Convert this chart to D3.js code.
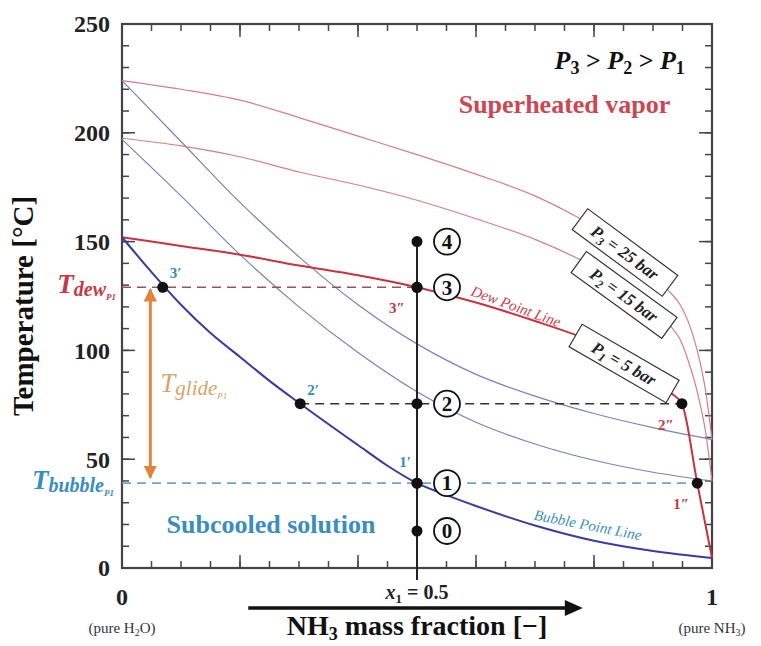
<!DOCTYPE html>
<html>
<head>
<meta charset="utf-8">
<title>NH3-H2O: T-x diagram</title>
<script src="https://d3js.org/d3.v7.min.js"></script>
<style>
  body { margin: 0; background: #fff; }
  text { font-family: "Liberation Serif", "Times New Roman", serif; }
</style>
</head>
<body>
<div id="chart"></div>
<script>
// [NH3 mass fraction, temperature °C]
const bubbleP1 = [[0,152],[0.05,136],[0.1,121],[0.15,108],[0.2,97],[0.25,86],[0.302,75.5],[0.4,56.5],[0.45,47],[0.5,39],[0.55,33.5],[0.6,28.5],[0.7,19.5],[0.8,12.5],[0.9,7.8],[1,4.6]];
const dewP1 = [[0,152],[0.1,148],[0.2,144],[0.3,139],[0.4,134.5],[0.5,129],[0.6,122],[0.7,113.5],[0.78,106],[0.85,98],[0.9,89],[0.93,80.5],[0.949,75.5],[0.975,39],[1,4.6]];
const bubbleP2 = [[0,197],[0.1,171],[0.2,144],[0.3,120],[0.4,99],[0.5,81],[0.6,67],[0.7,57],[0.8,49.5],[0.9,44],[1,40]];
const dewP2 = [[0,197.5],[0.1,194],[0.2,189],[0.3,182],[0.4,176],[0.5,169],[0.6,160.5],[0.7,151],[0.8,138.5],[0.85,131],[0.9,120],[0.93,111],[0.946,105],[0.96,95],[0.975,81],[0.99,61],[1,40]];
const bubbleP3 = [[0,224],[0.1,196],[0.2,168],[0.3,143],[0.4,121],[0.5,103],[0.6,89],[0.7,79],[0.8,71],[0.9,64.5],[1,59]];
const dewP3 = [[0,224],[0.1,220],[0.2,215],[0.3,207],[0.4,198.5],[0.5,190],[0.6,181],[0.7,171],[0.77,161.5],[0.85,148],[0.9,137],[0.923,128.5],[0.946,121],[0.96,113],[0.975,100],[0.99,80],[1,59]];

// process at x1 = 0.5
const x1 = 0.5;
const Tdew = 129, T2 = 75.5, Tbubble = 39;
const statePoints = [{label:"4", T:150}, {label:"3", T:Tdew}, {label:"2", T:T2}, {label:"1", T:Tbubble}, {label:"0", T:17}];
const primePoints = [{label:"3′", x:0.069, T:Tdew}, {label:"2′", x:0.302, T:T2}, {label:"1′", x:0.5, T:Tbubble}];
const dprimePoints = [{label:"3″", x:0.5, T:Tdew}, {label:"2″", x:0.949, T:T2}, {label:"1″", x:0.975, T:Tbubble}];

// pressure boxes: label, anchor (x, T), angle
const pressureLabels = [
  {p:"3", val:"25", x:0.8525, T:145, angle:36.5},
  {p:"2", val:"15", x:0.851, T:125.5, angle:36},
  {p:"1", val:"5", x:0.851, T:94, angle:30}
];

const yMajor = [0, 50, 100, 150, 200, 250];
const yMinor = d3.range(0, 251, 10);
const xMajor = [0, 0.2, 0.4, 0.6, 0.8, 1];
const xMinor = d3.range(0, 1.001, 0.05);

const W = 761, H = 646;
const margin = {top: 24, right: 49, bottom: 78, left: 122};
const svg = d3.select("#chart").append("svg").attr("width", W).attr("height", H);

const x = d3.scaleLinear().domain([0, 1]).range([margin.left, W - margin.right]);
const y = d3.scaleLinear().domain([0, 250]).range([H - margin.bottom, margin.top]);

const line = d3.line().x(d => x(d[0])).y(d => y(d[1])).curve(d3.curveMonotoneX);

// inward ticks on all four sides
function yTicks(vals, len) {
  [[x(0), 1], [x(1), -1]].forEach(([x0, dir]) => {
    svg.append("g").selectAll("line").data(vals).join("line")
      .attr("x1", x0).attr("x2", x0 + dir * len)
      .attr("y1", d => y(d)).attr("y2", d => y(d))
      .style("stroke", "#444").style("stroke-width", "1.5px");
  });
}
function xTicks(vals, len) {
  [[y(250), 1], [y(0), -1]].forEach(([y0, dir]) => {
    svg.append("g").selectAll("line").data(vals).join("line")
      .attr("y1", y0).attr("y2", y0 + dir * len)
      .attr("x1", d => x(d)).attr("x2", d => x(d))
      .style("stroke", "#444").style("stroke-width", "1.5px");
  });
}
yTicks(yMinor, 7); yTicks(yMajor, 13);
xTicks(xMinor, 7); xTicks(xMajor, 13);

svg.append("rect")
  .attr("x", x(0)).attr("y", y(250))
  .attr("width", x(1) - x(0)).attr("height", y(0) - y(250))
  .attr("fill", "none").attr("stroke", "#444").attr("stroke-width", 2.2);

// y tick labels
svg.append("g").selectAll("text").data(yMajor).join("text")
  .attr("x", x(0) - 12).attr("y", d => y(d)).attr("dy", "0.35em")
  .attr("text-anchor", "end").attr("font-size", 24).attr("font-weight", "bold")
  .attr("fill", "#222").text(d => d);

// y title
svg.append("text")
  .attr("transform", `translate(33,${y(125) + 10}) rotate(-90)`)
  .attr("text-anchor", "middle").attr("font-size", 29).attr("font-weight", "bold")
  .attr("fill", "#111").text("Temperature [°C]");

// bubble and dew curves
const curves = [
  {d: bubbleP3, c: "#7d80bb", w: 1.2},
  {d: bubbleP2, c: "#7d80bb", w: 1.2},
  {d: dewP3, c: "#d77e88", w: 1.2},
  {d: dewP2, c: "#d77e88", w: 1.2},
  {d: dewP1, c: "#c9323f", w: 2},
  {d: bubbleP1, c: "#3a3aa6", w: 2}
];
svg.append("g").selectAll("path").data(curves).join("path")
  .attr("d", d => line(d.d)).attr("fill", "none")
  .attr("stroke", d => d.c).attr("stroke-width", d => d.w);

// dashed isotherms
const dashes = [
  {x0: 0, x1: x1, T: Tdew, c: "#a0505c"},
  {x0: 0.302, x1: 0.949, T: T2, c: "#333"},
  {x0: 0, x1: 0.975, T: Tbubble, c: "#7f9dc0"}
];
svg.append("g").selectAll("line").data(dashes).join("line")
  .attr("x1", d => x(d.x0)).attr("x2", d => x(d.x1))
  .attr("y1", d => y(d.T)).attr("y2", d => y(d.T))
  .attr("stroke", d => d.c).attr("stroke-width", 1.6).attr("stroke-dasharray", "9,6");

// vertical process line at x1
svg.append("line")
  .attr("x1", x(x1)).attr("x2", x(x1)).attr("y1", y(150)).attr("y2", y(-5.5))
  .attr("stroke", "#222").attr("stroke-width", 2);

// glide arrow
const glideX = 0.048;
const defs = svg.append("defs");
defs.append("marker").attr("id", "oh").attr("viewBox", "0 0 10 10")
  .attr("refX", 9).attr("refY", 5).attr("markerWidth", 4.5).attr("markerHeight", 4.5)
  .attr("orient", "auto-start-reverse")
  .append("path").attr("d", "M0,0 L10,5 L0,10 Z").attr("fill", "#e0843c");
svg.append("line")
  .attr("x1", x(glideX)).attr("x2", x(glideX)).attr("y1", y(41.5)).attr("y2", y(128))
  .attr("stroke", "#e0843c").attr("stroke-width", 3)
  .attr("marker-start", "url(#oh)").attr("marker-end", "url(#oh)");

// pressure boxes
const pb = svg.append("g").selectAll("g").data(pressureLabels).join("g")
  .attr("transform", d => `translate(${x(d.x)},${y(d.T)}) rotate(${d.angle})`);
pb.append("rect").attr("x", -56).attr("y", -13).attr("width", 112).attr("height", 26)
  .attr("fill", "#fff").attr("stroke", "#333").attr("stroke-width", 1.2);
const pbt = pb.append("text").attr("text-anchor", "middle").attr("y", 6)
  .attr("font-size", 17).attr("font-weight", "bold").attr("font-style", "italic").attr("fill", "#222");
pbt.append("tspan").text("P");
pbt.append("tspan").attr("font-size", 12).attr("dy", 4).text(d => d.p);
pbt.append("tspan").attr("dy", -4).text(d => ` = ${d.val} bar`);

// curve labels
svg.append("text")
  .attr("transform", `translate(${x(0.665)},${y(118)}) rotate(20)`)
  .attr("text-anchor", "middle").attr("font-size", 15).attr("font-style", "italic")
  .attr("fill", "#d0404e").text("Dew Point Line");
svg.append("text")
  .attr("transform", `translate(${x(0.788)},${y(17.5)}) rotate(11)`)
  .attr("text-anchor", "middle").attr("font-size", 15).attr("font-style", "italic")
  .attr("fill", "#3a8fc0").text("Bubble Point Line");

// region labels
svg.append("text").attr("x", x(0.75)).attr("y", y(209))
  .attr("text-anchor", "middle").attr("font-size", 26).attr("font-weight", "bold")
  .attr("fill", "#cf4650").text("Superheated vapor");
svg.append("text").attr("x", x(0.2525)).attr("y", y(16))
  .attr("text-anchor", "middle").attr("font-size", 26).attr("font-weight", "bold")
  .attr("fill", "#3b8dc0").text("Subcooled solution");

// P3 > P2 > P1
const ord = svg.append("text").attr("x", x(0.954)).attr("y", y(229.5))
  .attr("text-anchor", "end").attr("font-size", 26).attr("font-weight", "bold").attr("fill", "#111");
[["P", "3", " > "], ["P", "2", " > "], ["P", "1", ""]].forEach(([p, s, g]) => {
  ord.append("tspan").attr("font-style", "italic").text(p);
  ord.append("tspan").attr("font-size", 18).attr("dy", 5).text(s);
  if (g) ord.append("tspan").attr("dy", -5).text(g);
});

// temperature labels on the left
function tempLabel(T, sub, color, tx) {
  const t = svg.append("text").attr("x", tx).attr("y", y(T) + 6)
    .attr("text-anchor", "end").attr("fill", color).attr("font-style", "italic").attr("font-weight", "bold");
  t.append("tspan").attr("font-size", 27).text("T");
  t.append("tspan").attr("font-size", 20).attr("dy", 3).text(sub);
  t.append("tspan").attr("font-size", 9).attr("dy", 4).text("P1");
}
tempLabel(Tdew, "dew", "#c93845", 116);
tempLabel(Tbubble, "bubble", "#3b8dc0", 114);
const gl = svg.append("text").attr("x", x(glideX) + 10).attr("y", y(81))
  .attr("fill", "#d9a468").attr("font-style", "italic");
gl.append("tspan").attr("font-size", 27).text("T");
gl.append("tspan").attr("font-size", 21).attr("dy", 3).text("glide");
gl.append("tspan").attr("font-size", 9).attr("dy", 4).text("P1");

// state points on x1
const sp = svg.append("g").selectAll("g").data(statePoints).join("g");
sp.append("circle").attr("cx", x(x1)).attr("cy", d => y(d.T)).attr("r", 5.5).attr("fill", "#111");
sp.append("circle").attr("cx", x(x1) + 30).attr("cy", d => y(d.T)).attr("r", 13)
  .attr("fill", "#fff").attr("stroke", "#111").attr("stroke-width", 1.8);
sp.append("text").attr("x", x(x1) + 30).attr("y", d => y(d.T)).attr("dy", "0.35em")
  .attr("text-anchor", "middle").attr("font-size", 21).attr("font-weight", "bold")
  .attr("fill", "#111").text(d => d.label);

// saturated points
svg.append("g").selectAll("circle").data(primePoints.concat(dprimePoints)).join("circle")
  .attr("cx", d => x(d.x)).attr("cy", d => y(d.T)).attr("r", 5.5).attr("fill", "#111");
svg.append("g").selectAll("text").data(primePoints).join("text")
  .attr("x", d => x(d.x) + (d.label[0] === "1" ? -12 : 13))
  .attr("y", d => y(d.T) + (d.label[0] === "1" ? -16 : -9))
  .attr("text-anchor", "middle").attr("font-size", 15).attr("font-weight", "bold")
  .attr("fill", "#2f8fb8").text(d => d.label);
svg.append("g").selectAll("text").data(dprimePoints).join("text")
  .attr("x", d => x(d.x) - (d.label[0] === "3" ? 20 : 16))
  .attr("y", d => y(d.T) + 26)
  .attr("text-anchor", "middle").attr("font-size", 15).attr("font-weight", "bold")
  .attr("fill", "#c93845").text(d => d.label);

// x-axis labels
const bottom = y(0);
svg.append("g").selectAll("text").data([0, 1]).join("text")
  .attr("x", d => x(d)).attr("y", bottom + 37).attr("text-anchor", "middle")
  .attr("font-size", 24).attr("font-weight", "bold").attr("fill", "#222").text(d => d);
[[0, "H", "2", "O)"], [1, "NH", "3", ")"]].forEach(([v, a, s, b]) => {
  const t = svg.append("text").attr("x", x(v)).attr("y", bottom + 65).attr("text-anchor", "middle")
    .attr("font-size", 15).attr("fill", "#333");
  t.append("tspan").text("(pure " + a);
  t.append("tspan").attr("font-size", 10).attr("dy", 3).text(s);
  t.append("tspan").attr("dy", -3).text(b);
});
const xl = svg.append("text").attr("x", x(x1)).attr("y", bottom + 31).attr("text-anchor", "middle")
  .attr("font-size", 20).attr("font-weight", "bold").attr("fill", "#222");
xl.append("tspan").attr("font-style", "italic").text("x");
xl.append("tspan").attr("font-size", 13).attr("dy", 4).text("1");
xl.append("tspan").attr("dy", -4).text(" = 0.5");

// composition arrow
const arrowFrom = 0.214, arrowTo = 0.781;
svg.append("line").attr("x1", x(arrowFrom)).attr("x2", x(arrowTo) - 14)
  .attr("y1", bottom + 40).attr("y2", bottom + 40).attr("stroke", "#111").attr("stroke-width", 3.5);
svg.append("path")
  .attr("d", `M${x(arrowTo)},${bottom + 40} l-18,-8 l0,16 Z`).attr("fill", "#111");

const xt = svg.append("text").attr("x", x(x1)).attr("y", bottom + 67).attr("text-anchor", "middle")
  .attr("font-size", 28).attr("font-weight", "bold").attr("fill", "#111");
xt.append("tspan").text("NH");
xt.append("tspan").attr("font-size", 18).attr("dy", 5).text("3");
xt.append("tspan").attr("dy", -5).text(" mass fraction [\u2212]");
</script>
</body>
</html>
